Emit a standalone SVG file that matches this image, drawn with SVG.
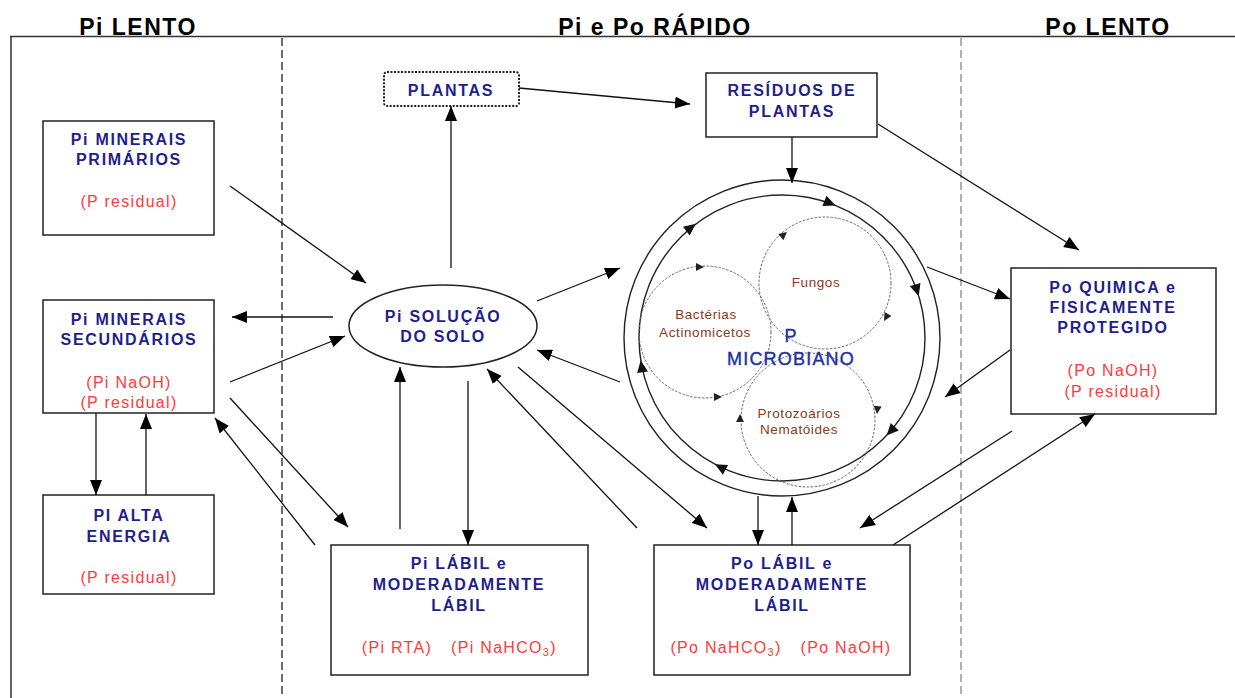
<svg xmlns="http://www.w3.org/2000/svg" width="1235" height="698" viewBox="0 0 1235 698">
<defs>
<marker id="arr" markerUnits="userSpaceOnUse" markerWidth="16" markerHeight="12" refX="15" refY="6" orient="auto">
<path d="M0,0 L15,6 L0,12 Z" fill="#000"/>
</marker>
<path id="ch" d="M0,0 L-12,-5.5 L-12,5.5 Z" fill="#111"/>
<path id="sh" d="M0,0 L-8,-4 L-8,4 Z" fill="#222"/>
<style>
.lbl{font-family:"Liberation Sans",Arial,sans-serif;font-weight:bold;font-size:16px;letter-spacing:1.7px;fill:#1f1f8c;text-anchor:middle}
.red{font-family:"Liberation Sans",Arial,sans-serif;font-size:16px;letter-spacing:1.3px;fill:#ff3a3a;text-anchor:middle}
.ttl{font-family:"Liberation Sans",Arial,sans-serif;font-weight:bold;font-size:23px;letter-spacing:1.5px;fill:#000;text-anchor:middle}
.mic{font-family:"Liberation Sans",Arial,sans-serif;font-size:13.5px;letter-spacing:0.6px;fill:#8a3a1a;text-anchor:middle}
.mb{font-family:"Liberation Sans",Arial,sans-serif;font-size:18px;letter-spacing:1.2px;fill:#2030a0;stroke:#2030a0;stroke-width:0.4;text-anchor:middle}
.box{fill:#fff;stroke:#222;stroke-width:1.5}
.con line{stroke:#111;stroke-width:1.3;marker-end:url(#arr)}
.dc{fill:none;stroke:#666;stroke-width:1;stroke-dasharray:2.5,1.5}
</style>
</defs>
<rect width="1235" height="698" fill="#fff"/>
<!-- frame -->
<line x1="10" y1="36.5" x2="1235" y2="36.5" stroke="#333" stroke-width="1.5"/>
<line x1="11" y1="36" x2="11" y2="698" stroke="#333" stroke-width="1.5"/>
<line x1="282" y1="38" x2="282" y2="698" stroke="#222" stroke-width="1.3" stroke-dasharray="8,4"/>
<line x1="961" y1="38" x2="961" y2="698" stroke="#888" stroke-width="1.3" stroke-dasharray="8,4"/>
<text class="ttl" x="138" y="35">Pi LENTO</text>
<text class="ttl" x="655" y="35">Pi e Po RÁPIDO</text>
<text class="ttl" x="1108" y="35">Po LENTO</text>

<g id="primarios">
<rect class="box" x="43" y="121" width="171" height="114"/>
<text class="lbl" x="129" y="145">Pi MINERAIS</text>
<text class="lbl" x="129" y="165">PRIMÁRIOS</text>
<text class="red" x="129" y="207">(P residual)</text>
</g>
<g id="secundarios">
<rect class="box" x="43" y="300" width="171" height="113"/>
<text class="lbl" x="129" y="325">Pi MINERAIS</text>
<text class="lbl" x="129" y="345">SECUNDÁRIOS</text>
<text class="red" x="129" y="388">(Pi NaOH)</text>
<text class="red" x="129" y="408">(P residual)</text>
</g>
<g id="alta">
<rect class="box" x="43" y="495" width="171" height="99"/>
<text class="lbl" x="129" y="521">PI ALTA</text>
<text class="lbl" x="129" y="542">ENERGIA</text>
<text class="red" x="129" y="583">(P residual)</text>
</g>
<g id="plantas">
<rect x="384" y="72" width="135" height="34" rx="3" fill="#fff" stroke="#222" stroke-width="2" stroke-dasharray="2,1.5"/>
<text class="lbl" x="451" y="96">PLANTAS</text>
</g>
<g id="residuos">
<rect class="box" x="706" y="73" width="171" height="64"/>
<text class="lbl" x="792" y="96">RESÍDUOS DE</text>
<text class="lbl" x="792" y="117">PLANTAS</text>
</g>
<g id="solucao">
<ellipse cx="443" cy="326" rx="94" ry="41" fill="#fff" stroke="#222" stroke-width="1.5"/>
<text class="lbl" x="443" y="322">Pi SOLUÇÃO</text>
<text class="lbl" x="443" y="342">DO SOLO</text>
</g>
<g id="pilabil">
<rect class="box" x="331" y="545" width="257" height="130"/>
<text class="lbl" x="459" y="569">Pi LÁBIL e</text>
<text class="lbl" x="459" y="590">MODERADAMENTE</text>
<text class="lbl" x="459" y="611">LÁBIL</text>
<text class="red" x="397" y="653">(Pi RTA)</text>
<text class="red" x="504" y="653">(Pi NaHCO<tspan font-size="11" dy="3">3</tspan><tspan dy="-3">)</tspan></text>
</g>
<g id="polabil">
<rect class="box" x="654" y="545" width="256" height="130"/>
<text class="lbl" x="782" y="569">Po LÁBIL e</text>
<text class="lbl" x="782" y="590">MODERADAMENTE</text>
<text class="lbl" x="782" y="611">LÁBIL</text>
<text class="red" x="726" y="653">(Po NaHCO<tspan font-size="11" dy="3">3</tspan><tspan dy="-3">)</tspan></text>
<text class="red" x="846" y="653">(Po NaOH)</text>
</g>
<g id="poquimica">
<rect class="box" x="1011" y="268" width="205" height="146"/>
<text class="lbl" x="1113" y="293">Po QUIMICA e</text>
<text class="lbl" x="1113" y="313">FISICAMENTE</text>
<text class="lbl" x="1113" y="333">PROTEGIDO</text>
<text class="red" x="1113" y="376">(Po NaOH)</text>
<text class="red" x="1113" y="397">(P residual)</text>
</g>
<g id="microbiano">
<circle cx="782" cy="338" r="158" fill="none" stroke="#222" stroke-width="1.4"/>
<circle cx="782" cy="338" r="143" fill="none" stroke="#222" stroke-width="1.4"/>
<use href="#ch" transform="translate(835.6,205.4) rotate(22)"/>
<use href="#ch" transform="translate(918.7,296.2) rotate(73)"/>
<use href="#ch" transform="translate(886.6,435.5) rotate(133)"/>
<use href="#ch" transform="translate(714.9,464.3) rotate(208)"/>
<use href="#ch" transform="translate(640.7,360.4) rotate(261)"/>
<use href="#ch" transform="translate(695.9,223.8) rotate(323)"/>
<circle class="dc" cx="705" cy="332" r="66"/>
<circle class="dc" cx="825" cy="283" r="66"/>
<circle class="dc" cx="808" cy="420" r="67"/>
<use href="#sh" transform="translate(704,267)"/>
<use href="#sh" transform="translate(722,397)"/>
<use href="#sh" transform="translate(787,232) rotate(-40)"/>
<use href="#sh" transform="translate(884,321) rotate(120)"/>
<use href="#sh" transform="translate(877,414) rotate(95)"/>
<use href="#sh" transform="translate(740,414) rotate(-90)"/>
<text class="mic" x="816" y="287">Fungos</text>
<text class="mic" x="706" y="319">Bactérias</text>
<text class="mic" x="705" y="337">Actinomicetos</text>
<text class="mic" x="799" y="418">Protozoários</text>
<text class="mic" x="799" y="434">Nematóides</text>
<text class="mb" x="791" y="342">P</text>
<text class="mb" x="791" y="365">MICROBIANO</text>
</g>
<g id="connectors" class="con">
<line x1="519" y1="88" x2="690" y2="104"/>
<line x1="451" y1="268" x2="451" y2="106"/>
<line x1="792" y1="137" x2="792" y2="183"/>
<line x1="878" y1="124" x2="1079" y2="250"/>
<line x1="230" y1="186" x2="366" y2="283"/>
<line x1="333" y1="317" x2="232" y2="317"/>
<line x1="230" y1="382" x2="345" y2="336"/>
<line x1="230" y1="398" x2="348" y2="527"/>
<line x1="315" y1="545" x2="215" y2="418"/>
<line x1="96" y1="413" x2="96" y2="495"/>
<line x1="146" y1="495" x2="146" y2="414"/>
<line x1="400" y1="529" x2="400" y2="367"/>
<line x1="468" y1="381" x2="468" y2="545"/>
<line x1="537" y1="301" x2="620" y2="268"/>
<line x1="620" y1="382" x2="537" y2="350"/>
<line x1="637" y1="528" x2="487" y2="369"/>
<line x1="518" y1="367" x2="707" y2="528"/>
<line x1="758" y1="496" x2="758" y2="545"/>
<line x1="792" y1="545" x2="792" y2="497"/>
<line x1="927" y1="267" x2="1010" y2="299"/>
<line x1="1010" y1="350" x2="945" y2="397"/>
<line x1="1012" y1="431" x2="860" y2="528"/>
<line x1="893" y1="545" x2="1095" y2="414"/>
</g>
</svg>
